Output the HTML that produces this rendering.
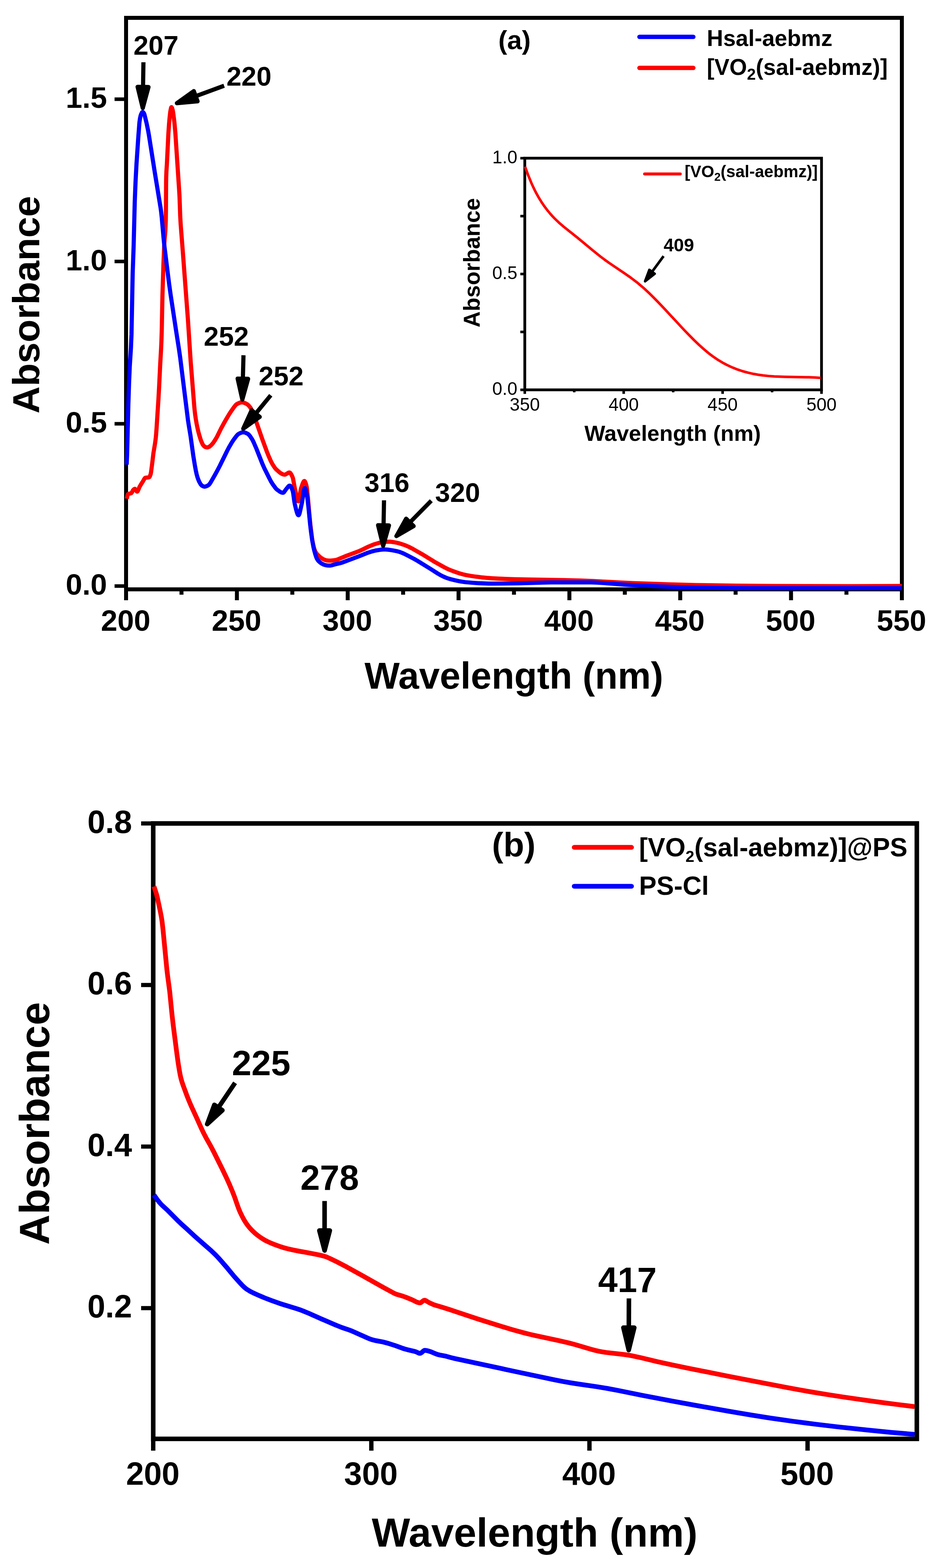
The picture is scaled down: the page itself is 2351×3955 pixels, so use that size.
<!DOCTYPE html>
<html><head><meta charset="utf-8"><title>UV-Vis absorption spectra (a) Hsal-aebmz and [VO2(sal-aebmz)], (b) [VO2(sal-aebmz)]@PS and PS-Cl</title>
<style>
html,body{margin:0;padding:0;background:#fff;}
body{width:2351px;height:3955px;overflow:hidden;}
svg{display:block;}
svg text{font-family:'Liberation Sans', Arial, Helvetica, sans-serif;font-weight:bold;fill:#000;}
</style></head>
<body>
<svg width="2351" height="3955" viewBox="0 0 2351 3955">
<rect x="0" y="0" width="2351" height="3955" fill="#fff"/>
<rect x="318.0" y="45" width="1957.0" height="1441.5" fill="none" stroke="#000" stroke-width="10"/>
<line x1="289" y1="1478.2" x2="318.0" y2="1478.2" stroke="#000" stroke-width="9"/>
<text x="270" y="1500.2" font-size="75" text-anchor="end">0.0</text>
<line x1="289" y1="1068.9" x2="318.0" y2="1068.9" stroke="#000" stroke-width="9"/>
<text x="270" y="1090.9" font-size="75" text-anchor="end">0.5</text>
<line x1="289" y1="659.5" x2="318.0" y2="659.5" stroke="#000" stroke-width="9"/>
<text x="270" y="681.5" font-size="75" text-anchor="end">1.0</text>
<line x1="289" y1="250.2" x2="318.0" y2="250.2" stroke="#000" stroke-width="9"/>
<text x="270" y="272.2" font-size="75" text-anchor="end">1.5</text>
<line x1="318.0" y1="1486" x2="318.0" y2="1514" stroke="#000" stroke-width="10"/>
<text x="317.0" y="1591" font-size="75" text-anchor="middle">200</text>
<line x1="457.8" y1="1486" x2="457.8" y2="1500" stroke="#000" stroke-width="10"/>
<line x1="597.6" y1="1486" x2="597.6" y2="1514" stroke="#000" stroke-width="10"/>
<text x="596.6" y="1591" font-size="75" text-anchor="middle">250</text>
<line x1="737.4" y1="1486" x2="737.4" y2="1500" stroke="#000" stroke-width="10"/>
<line x1="877.1" y1="1486" x2="877.1" y2="1514" stroke="#000" stroke-width="10"/>
<text x="876.1" y="1591" font-size="75" text-anchor="middle">300</text>
<line x1="1016.9" y1="1486" x2="1016.9" y2="1500" stroke="#000" stroke-width="10"/>
<line x1="1156.7" y1="1486" x2="1156.7" y2="1514" stroke="#000" stroke-width="10"/>
<text x="1155.7" y="1591" font-size="75" text-anchor="middle">350</text>
<line x1="1296.5" y1="1486" x2="1296.5" y2="1500" stroke="#000" stroke-width="10"/>
<line x1="1436.3" y1="1486" x2="1436.3" y2="1514" stroke="#000" stroke-width="10"/>
<text x="1435.3" y="1591" font-size="75" text-anchor="middle">400</text>
<line x1="1576.1" y1="1486" x2="1576.1" y2="1500" stroke="#000" stroke-width="10"/>
<line x1="1715.9" y1="1486" x2="1715.9" y2="1514" stroke="#000" stroke-width="10"/>
<text x="1714.9" y="1591" font-size="75" text-anchor="middle">450</text>
<line x1="1855.6" y1="1486" x2="1855.6" y2="1500" stroke="#000" stroke-width="10"/>
<line x1="1995.4" y1="1486" x2="1995.4" y2="1514" stroke="#000" stroke-width="10"/>
<text x="1994.4" y="1591" font-size="75" text-anchor="middle">500</text>
<line x1="2135.2" y1="1486" x2="2135.2" y2="1500" stroke="#000" stroke-width="10"/>
<line x1="2275.0" y1="1486" x2="2275.0" y2="1514" stroke="#000" stroke-width="10"/>
<text x="2274.0" y="1591" font-size="75" text-anchor="middle">550</text>
<text x="98.9" y="768.6" font-size="95" text-anchor="middle" transform="rotate(-90 98.9 768.6)">Absorbance</text>
<text x="1296.3" y="1737" font-size="94" text-anchor="middle">Wavelength (nm)</text>
<path d="M320.00,1258.00 L321.80,1249.01 L322.80,1246.19 L324.60,1245.35 L329.20,1244.58 L331.20,1243.89 L332.40,1242.42 L335.60,1236.47 L338.00,1234.00 L339.60,1233.05 L340.40,1233.09 L341.40,1233.97 L344.00,1238.19 L345.00,1239.48 L345.80,1239.98 L346.60,1239.76 L347.40,1238.80 L348.20,1237.26 L352.00,1228.00 L355.60,1221.86 L360.60,1214.04 L363.80,1208.35 L365.20,1206.33 L366.20,1205.37 L367.00,1205.00 L374.00,1204.34 L376.20,1203.93 L377.00,1203.20 L378.00,1201.45 L380.00,1196.00 L381.00,1191.17 L384.00,1168.08 L387.00,1143.00 L391.20,1117.99 L392.80,1106.00 L393.80,1095.39 L395.00,1079.19 L399.60,1007.76 L401.40,975.34 L404.20,917.40 L406.20,882.23 L407.20,860.86 L408.00,834.89 L409.80,744.37 L412.20,667.89 L414.40,615.45 L415.20,603.63 L417.00,583.83 L418.20,556.82 L418.60,528.56 L419.00,460.13 L419.20,448.38 L419.80,432.12 L421.00,413.63 L424.80,335.97 L426.40,312.74 L428.00,295.23 L429.60,281.33 L431.40,272.46 L432.00,270.72 L432.40,270.22 L432.60,270.21 L433.00,270.51 L433.60,271.55 L435.20,276.16 L436.00,279.68 L437.00,285.64 L439.80,307.31 L442.20,333.39 L452.40,487.03 L453.00,499.41 L454.60,545.81 L455.80,566.45 L462.00,645.90 L474.00,805.46 L481.00,912.07 L490.00,1024.58 L491.20,1036.94 L492.40,1046.64 L494.00,1057.58 L496.00,1069.02 L498.20,1079.77 L500.40,1089.07 L503.00,1098.62 L506.00,1108.34 L508.20,1114.30 L511.20,1120.76 L512.80,1123.26 L515.60,1126.08 L517.80,1127.43 L520.20,1128.17 L522.20,1128.49 L523.40,1128.44 L524.80,1128.12 L527.20,1127.21 L528.20,1126.63 L532.60,1122.91 L535.20,1120.24 L538.40,1116.16 L542.20,1110.50 L547.20,1102.08 L557.40,1081.28 L564.20,1068.68 L570.80,1057.11 L577.60,1045.67 L582.00,1038.74 L590.60,1026.47 L594.40,1021.79 L596.00,1020.27 L597.40,1019.24 L602.40,1016.75 L606.60,1015.27 L608.60,1014.90 L610.40,1014.80 L614.00,1015.34 L618.40,1016.97 L623.20,1019.42 L626.60,1022.19 L629.60,1025.55 L632.60,1029.64 L634.60,1033.31 L637.00,1038.70 L646.80,1064.93 L661.80,1108.20 L673.60,1140.37 L677.20,1149.29 L682.80,1162.07 L685.80,1168.08 L689.40,1174.17 L693.60,1180.41 L697.00,1184.36 L705.40,1191.53 L708.40,1193.69 L711.20,1195.33 L713.20,1196.23 L715.20,1196.86 L717.20,1197.17 L718.80,1197.13 L721.40,1196.15 L727.40,1192.45 L728.80,1191.95 L730.20,1191.81 L731.40,1192.27 L732.60,1193.35 L734.00,1195.26 L735.40,1197.76 L738.20,1203.90 L739.20,1207.24 L743.00,1228.02 L748.00,1252.78 L749.80,1260.11 L750.60,1262.42 L751.40,1263.96 L752.00,1264.53 L752.60,1264.47 L753.20,1263.51 L753.80,1261.72 L755.00,1256.27 L757.80,1239.53 L759.00,1233.44 L759.60,1231.21 L763.40,1220.01 L765.40,1215.54 L766.20,1214.34 L767.00,1213.57 L767.80,1213.30 L768.40,1213.51 L769.00,1214.11 L769.80,1215.45 L771.20,1219.02 L772.80,1224.49 L773.60,1227.88 L774.20,1231.84 L776.60,1253.97 L781.00,1303.86 L783.20,1325.89 L787.00,1356.73 L788.40,1365.46 L790.20,1374.46 L791.80,1381.05 L793.20,1385.58 L795.20,1390.62 L797.00,1394.00 L799.80,1397.71 L804.00,1401.98 L808.00,1405.51 L811.80,1408.22 L814.60,1409.92 L817.00,1411.11 L821.20,1412.83 L824.00,1413.50 L829.40,1413.96 L834.40,1413.93 L841.80,1413.29 L847.60,1412.40 L853.40,1410.46 L875.80,1401.19 L889.60,1396.15 L906.20,1389.79 L913.20,1386.74 L928.80,1379.02 L938.40,1375.03 L945.40,1372.44 L956.20,1369.26 L963.00,1367.77 L975.00,1366.55 L983.80,1366.35 L988.00,1366.72 L992.80,1367.45 L1001.60,1369.11 L1007.00,1370.41 L1013.00,1372.21 L1020.00,1374.63 L1025.40,1376.69 L1030.60,1378.98 L1042.20,1384.95 L1065.20,1398.08 L1096.00,1416.97 L1115.40,1427.92 L1122.80,1431.90 L1129.20,1435.07 L1134.60,1437.45 L1141.00,1439.91 L1151.00,1443.51 L1160.00,1446.43 L1168.40,1448.79 L1176.20,1450.58 L1187.80,1452.60 L1201.20,1454.57 L1214.20,1456.16 L1227.40,1457.46 L1239.80,1458.39 L1258.60,1459.45 L1297.60,1460.93 L1336.60,1461.82 L1425.00,1463.23 L1463.00,1464.20 L1495.20,1465.56 L1565.00,1469.24 L1595.60,1470.63 L1690.60,1474.02 L1757.00,1475.77 L1858.40,1477.26 L1948.00,1477.99 L2149.20,1478.50 L2275.00,1478.00" fill="none" stroke="#ff0000" stroke-width="10.5" stroke-linejoin="round"/>
<path d="M319.50,1172.00 L320.70,1144.00 L323.70,1022.22 L325.50,967.20 L327.30,924.68 L330.30,877.10 L331.70,843.64 L334.70,688.67 L337.10,620.88 L339.90,509.29 L341.90,458.92 L344.30,413.82 L348.70,348.45 L351.70,308.79 L353.10,299.14 L354.10,294.23 L355.10,290.45 L355.90,288.23 L357.90,284.09 L358.90,282.75 L359.90,282.30 L361.10,282.97 L362.30,284.50 L363.70,286.89 L364.50,289.18 L369.70,310.54 L373.90,330.90 L375.90,342.65 L390.30,433.87 L405.10,524.44 L406.50,534.58 L407.90,547.37 L412.70,601.36 L414.50,619.19 L426.70,716.91 L430.50,743.95 L444.50,836.29 L451.30,879.80 L454.50,901.73 L474.10,1059.18 L475.90,1071.09 L480.50,1098.65 L487.50,1149.08 L491.70,1174.55 L494.10,1187.54 L496.10,1196.63 L498.10,1203.63 L500.50,1210.40 L502.90,1215.80 L505.70,1220.78 L506.90,1222.38 L508.70,1224.31 L509.90,1225.34 L511.10,1226.05 L514.70,1227.36 L516.10,1227.50 L517.70,1227.31 L521.10,1226.27 L522.70,1225.59 L524.90,1224.28 L527.10,1222.56 L529.30,1219.98 L531.70,1216.26 L542.10,1198.12 L547.90,1187.55 L554.50,1174.88 L572.90,1137.34 L577.70,1128.18 L582.70,1119.52 L586.90,1112.77 L590.10,1108.12 L595.70,1100.62 L598.90,1096.85 L601.50,1094.66 L606.90,1091.90 L611.10,1090.54 L614.10,1090.32 L617.50,1090.92 L621.10,1092.30 L625.70,1094.73 L628.10,1096.85 L630.90,1100.32 L635.90,1107.96 L637.90,1111.55 L640.90,1117.96 L646.70,1131.54 L661.90,1169.99 L666.70,1180.86 L679.90,1207.39 L683.70,1214.59 L688.30,1221.92 L694.50,1230.45 L696.90,1233.20 L699.10,1235.29 L705.50,1239.84 L707.90,1241.25 L710.10,1242.25 L712.10,1242.82 L714.10,1242.99 L715.30,1242.47 L716.50,1241.33 L721.30,1234.43 L726.70,1227.65 L728.70,1225.65 L730.10,1224.90 L731.30,1224.88 L732.50,1225.68 L733.90,1227.55 L736.10,1232.09 L738.50,1238.58 L739.70,1244.88 L742.30,1263.90 L743.50,1270.87 L746.70,1284.34 L748.70,1291.73 L750.50,1296.71 L751.30,1298.21 L752.10,1299.20 L753.10,1299.59 L753.50,1299.40 L754.10,1298.69 L755.10,1296.47 L756.30,1292.47 L761.70,1267.97 L765.50,1243.42 L766.90,1235.77 L767.70,1232.77 L768.50,1231.12 L769.10,1230.94 L769.90,1231.80 L770.90,1234.26 L772.10,1238.77 L774.50,1250.49 L775.30,1255.24 L776.50,1264.94 L778.90,1287.63 L782.30,1322.52 L784.50,1341.09 L787.50,1362.61 L790.90,1380.76 L792.90,1389.29 L795.30,1397.84 L797.50,1404.70 L799.30,1409.13 L801.10,1412.18 L803.50,1415.13 L807.10,1418.44 L810.70,1421.07 L816.30,1423.97 L820.50,1425.40 L825.50,1426.19 L829.50,1426.56 L832.50,1426.55 L835.50,1426.11 L844.50,1423.62 L857.50,1420.67 L863.10,1419.02 L904.90,1403.37 L926.10,1394.86 L939.50,1390.53 L947.70,1388.50 L958.50,1386.84 L966.30,1386.09 L973.10,1386.08 L979.10,1386.53 L985.50,1387.37 L992.90,1388.67 L1002.90,1390.72 L1006.70,1391.73 L1010.50,1392.99 L1019.10,1396.59 L1029.10,1401.63 L1045.70,1410.44 L1052.50,1414.29 L1086.70,1435.38 L1103.30,1445.97 L1109.70,1449.80 L1117.50,1453.88 L1125.70,1457.33 L1131.30,1459.33 L1136.50,1460.87 L1148.70,1463.85 L1159.10,1466.05 L1166.70,1467.39 L1173.70,1468.36 L1190.90,1469.86 L1206.70,1470.92 L1220.50,1471.60 L1233.10,1471.95 L1246.10,1471.99 L1309.10,1471.35 L1368.50,1469.51 L1389.70,1469.06 L1490.70,1469.12 L1505.30,1469.61 L1521.70,1470.51 L1573.70,1474.40 L1591.50,1475.56 L1663.50,1478.97 L1700.50,1480.52 L1732.10,1481.58 L1759.10,1482.23 L1792.90,1482.70 L1846.10,1483.27 L1890.70,1483.49 L2275.00,1483.50" fill="none" stroke="#0000ff" stroke-width="10.5" stroke-linejoin="round"/>
<text x="393.5" y="138" font-size="68" text-anchor="middle">207</text>
<line x1="361.8" y1="157.0" x2="360.8" y2="221.3" stroke="#000" stroke-width="10.5"/><polygon points="360.1,272.8 347.1,219.1 374.6,219.5" fill="#000" stroke="#000" stroke-width="10.5" stroke-linejoin="round"/>
<text x="628" y="216" font-size="68" text-anchor="middle">220</text>
<line x1="565.3" y1="216.3" x2="491.7" y2="243.4" stroke="#000" stroke-width="10.5"/><polygon points="446.2,260.2 488.9,229.8 498.4,255.6" fill="#000" stroke="#000" stroke-width="10.5" stroke-linejoin="round"/>
<text x="570.8" y="871.5" font-size="68" text-anchor="middle">252</text>
<line x1="614.2" y1="896.0" x2="612.6" y2="957.3" stroke="#000" stroke-width="10.5"/><polygon points="611.3,1007.8 599.4,954.9 625.9,955.6" fill="#000" stroke="#000" stroke-width="10.5" stroke-linejoin="round"/>
<text x="709.2" y="971.5" font-size="68" text-anchor="middle">252</text>
<line x1="683.0" y1="997.0" x2="643.7" y2="1044.8" stroke="#000" stroke-width="10.5"/><polygon points="613.5,1081.4 634.7,1034.8 655.2,1051.6" fill="#000" stroke="#000" stroke-width="10.5" stroke-linejoin="round"/>
<text x="976.2" y="1241" font-size="68" text-anchor="middle">316</text>
<line x1="968.7" y1="1262.0" x2="967.5" y2="1327.0" stroke="#000" stroke-width="10.5"/><polygon points="966.5,1377.0 953.7,1324.7 981.2,1325.2" fill="#000" stroke="#000" stroke-width="10.5" stroke-linejoin="round"/>
<text x="1154.3" y="1266" font-size="68" text-anchor="middle">320</text>
<line x1="1087.9" y1="1263.0" x2="1032.6" y2="1319.1" stroke="#000" stroke-width="10.5"/><polygon points="999.9,1352.2 1024.5,1308.3 1043.4,1327.0" fill="#000" stroke="#000" stroke-width="10.5" stroke-linejoin="round"/>
<text x="1298" y="123.5" font-size="67" text-anchor="middle">(a)</text>
<line x1="1613" y1="93.1" x2="1749" y2="93.1" stroke="#0000ff" stroke-width="11" stroke-linecap="round"/>
<line x1="1613" y1="171.3" x2="1749" y2="171.3" stroke="#ff0000" stroke-width="11" stroke-linecap="round"/>
<text x="1783" y="116" font-size="57" text-anchor="start">Hsal-aebmz</text>
<text x="1783" y="188.8" font-size="57" text-anchor="start">[VO<tspan font-size="40" dy="12">2</tspan><tspan dy="-12">(sal-aebmz)]</tspan></text>
<rect x="1323.8" y="399.0" width="748.5000000000002" height="584.3" fill="none" stroke="#000" stroke-width="7"/>
<line x1="1312.5" y1="983.3" x2="1323.8" y2="983.3" stroke="#000" stroke-width="6.5"/>
<text x="1305" y="996.3" font-size="45.5" text-anchor="end" style="font-weight:normal">0.0</text>
<line x1="1312.5" y1="837.2" x2="1323.8" y2="837.2" stroke="#000" stroke-width="6.5"/>
<line x1="1312.5" y1="691.1" x2="1323.8" y2="691.1" stroke="#000" stroke-width="6.5"/>
<text x="1305" y="704.1" font-size="45.5" text-anchor="end" style="font-weight:normal">0.5</text>
<line x1="1312.5" y1="545.1" x2="1323.8" y2="545.1" stroke="#000" stroke-width="6.5"/>
<line x1="1312.5" y1="399.0" x2="1323.8" y2="399.0" stroke="#000" stroke-width="6.5"/>
<text x="1305" y="412.0" font-size="45.5" text-anchor="end" style="font-weight:normal">1.0</text>
<line x1="1323.8" y1="983.3" x2="1323.8" y2="993.5" stroke="#000" stroke-width="6.5"/>
<text x="1323.8" y="1035.5" font-size="45.5" text-anchor="middle" style="font-weight:normal">350</text>
<line x1="1448.5" y1="983.3" x2="1448.5" y2="989.5" stroke="#000" stroke-width="6.5"/>
<line x1="1573.3" y1="983.3" x2="1573.3" y2="993.5" stroke="#000" stroke-width="6.5"/>
<text x="1573.3" y="1035.5" font-size="45.5" text-anchor="middle" style="font-weight:normal">400</text>
<line x1="1698.1" y1="983.3" x2="1698.1" y2="989.5" stroke="#000" stroke-width="6.5"/>
<line x1="1822.8" y1="983.3" x2="1822.8" y2="993.5" stroke="#000" stroke-width="6.5"/>
<text x="1822.8" y="1035.5" font-size="45.5" text-anchor="middle" style="font-weight:normal">450</text>
<line x1="1947.6" y1="983.3" x2="1947.6" y2="989.5" stroke="#000" stroke-width="6.5"/>
<line x1="2072.3" y1="983.3" x2="2072.3" y2="993.5" stroke="#000" stroke-width="6.5"/>
<text x="2072.3" y="1035.5" font-size="45.5" text-anchor="middle" style="font-weight:normal">500</text>
<text x="1209.7" y="662.75" font-size="56.5" text-anchor="middle" transform="rotate(-90 1209.7 662.75)">Absorbance</text>
<text x="1696.8" y="1112.3" font-size="55.5" text-anchor="middle">Wavelength (nm)</text>
<path d="M1324.50,420.44 L1332.30,441.83 L1340.50,461.73 L1344.70,470.99 L1348.90,479.66 L1353.30,488.16 L1357.70,496.10 L1362.30,503.86 L1367.10,511.41 L1371.90,518.46 L1377.10,525.59 L1382.50,532.51 L1387.90,538.97 L1393.50,545.23 L1399.50,551.49 L1409.90,561.42 L1421.50,571.47 L1455.90,598.90 L1496.50,632.55 L1513.90,646.51 L1525.10,655.01 L1536.50,663.17 L1575.90,689.74 L1590.90,700.24 L1605.90,711.58 L1619.50,722.90 L1628.30,730.77 L1637.30,739.21 L1646.90,748.59 L1657.30,759.12 L1676.70,779.51 L1724.90,831.40 L1738.30,845.36 L1750.50,857.61 L1763.90,870.42 L1776.30,881.51 L1788.10,891.28 L1799.50,899.86 L1811.10,907.70 L1822.90,914.79 L1834.90,921.14 L1847.30,926.85 L1860.10,931.92 L1873.10,936.25 L1886.50,939.95 L1900.50,943.06 L1912.70,945.22 L1925.50,946.99 L1938.90,948.38 L1953.30,949.43 L1979.70,950.48 L2040.90,951.58 L2056.30,952.21 L2070.20,953.12" fill="none" stroke="#ff0000" stroke-width="6.5" stroke-linejoin="round"/>
<line x1="1626" y1="438.8" x2="1716" y2="438.8" stroke="#ff0000" stroke-width="7.5" stroke-linecap="round"/>
<text x="1727" y="447" font-size="42" text-anchor="start">[VO<tspan font-size="29" dy="9">2</tspan><tspan dy="-9">(sal-aebmz)]</tspan></text>
<text x="1712.4" y="634" font-size="46" text-anchor="middle">409</text>
<line x1="1673.9" y1="646.0" x2="1643.6" y2="687.2" stroke="#000" stroke-width="6.5"/><polygon points="1627.3,709.4 1638.1,680.7 1651.4,690.5" fill="#000" stroke="#000" stroke-width="6.5" stroke-linejoin="round"/>
<rect x="386.5" y="2077" width="1926.1999999999998" height="1552.3000000000002" fill="none" stroke="#000" stroke-width="11.5"/>
<line x1="356" y1="2077.0" x2="386.5" y2="2077.0" stroke="#000" stroke-width="10.5"/>
<text x="333" y="2100.5" font-size="81" text-anchor="end">0.8</text>
<line x1="356" y1="2484.5" x2="386.5" y2="2484.5" stroke="#000" stroke-width="10.5"/>
<text x="333" y="2508.0" font-size="81" text-anchor="end">0.6</text>
<line x1="356" y1="2892.0" x2="386.5" y2="2892.0" stroke="#000" stroke-width="10.5"/>
<text x="333" y="2915.5" font-size="81" text-anchor="end">0.4</text>
<line x1="356" y1="3299.5" x2="386.5" y2="3299.5" stroke="#000" stroke-width="10.5"/>
<text x="333" y="3323.0" font-size="81" text-anchor="end">0.2</text>
<line x1="386.5" y1="3629.3" x2="386.5" y2="3659" stroke="#000" stroke-width="11"/>
<text x="385.5" y="3745" font-size="81" text-anchor="middle">200</text>
<line x1="936.7" y1="3629.3" x2="936.7" y2="3659" stroke="#000" stroke-width="11"/>
<text x="935.7" y="3745" font-size="81" text-anchor="middle">300</text>
<line x1="1486.9" y1="3629.3" x2="1486.9" y2="3659" stroke="#000" stroke-width="11"/>
<text x="1485.9" y="3745" font-size="81" text-anchor="middle">400</text>
<line x1="2037.1" y1="3629.3" x2="2037.1" y2="3659" stroke="#000" stroke-width="11"/>
<text x="2036.1" y="3745" font-size="81" text-anchor="middle">500</text>
<text x="124" y="2833.6" font-size="106" text-anchor="middle" transform="rotate(-90 124 2833.6)">Absorbance</text>
<text x="1348.7" y="3901.3" font-size="102.5" text-anchor="middle">Wavelength (nm)</text>
<path d="M388.50,2236.00 L394.70,2255.43 L396.70,2262.86 L403.90,2296.49 L406.90,2312.07 L408.70,2323.30 L411.10,2343.93 L420.90,2444.82 L422.70,2460.21 L428.10,2500.87 L433.90,2559.46 L437.10,2587.05 L446.50,2660.25 L449.50,2681.78 L452.30,2699.15 L454.50,2711.22 L456.30,2719.19 L458.70,2727.82 L462.10,2738.02 L471.10,2762.41 L477.10,2777.49 L482.90,2791.04 L495.70,2818.66 L508.50,2847.22 L513.50,2857.79 L519.50,2869.31 L532.30,2892.19 L539.70,2906.38 L560.50,2948.23 L571.90,2972.09 L579.50,2989.07 L586.50,3005.75 L591.30,3018.09 L599.30,3041.10 L602.50,3049.76 L605.70,3057.33 L610.70,3067.76 L615.30,3076.33 L619.90,3083.85 L625.10,3091.19 L630.50,3097.81 L636.50,3104.19 L643.10,3110.36 L649.70,3115.77 L657.90,3121.74 L663.30,3125.26 L668.50,3128.30 L674.50,3131.38 L681.10,3134.42 L689.30,3137.81 L699.50,3141.67 L708.50,3144.82 L716.70,3147.41 L727.30,3150.23 L740.50,3153.11 L755.30,3156.01 L779.70,3160.36 L805.30,3165.40 L817.50,3168.44 L821.50,3169.68 L825.30,3171.14 L831.10,3173.73 L849.10,3182.39 L875.10,3195.88 L912.30,3216.40 L966.90,3247.25 L992.30,3261.09 L997.10,3263.33 L1001.50,3265.04 L1016.90,3269.54 L1024.10,3272.13 L1039.30,3278.37 L1048.90,3283.19 L1052.90,3284.91 L1056.90,3285.99 L1059.10,3286.20 L1060.30,3286.08 L1061.50,3285.61 L1062.70,3284.86 L1066.90,3281.39 L1068.70,3280.19 L1070.50,3279.61 L1072.30,3279.82 L1074.70,3280.90 L1079.70,3284.04 L1087.70,3288.02 L1092.70,3290.28 L1097.50,3292.01 L1112.90,3296.51 L1133.70,3303.07 L1205.70,3327.00 L1252.70,3341.83 L1291.10,3353.45 L1307.50,3358.09 L1322.70,3362.15 L1336.10,3365.49 L1350.90,3368.91 L1409.30,3381.36 L1434.30,3387.10 L1450.90,3391.56 L1490.70,3403.31 L1501.50,3406.14 L1511.30,3408.37 L1519.50,3409.92 L1529.10,3411.37 L1574.10,3416.49 L1584.90,3418.03 L1594.90,3419.80 L1613.30,3423.77 L1658.50,3434.67 L1696.30,3442.81 L1735.90,3451.06 L1836.10,3471.13 L1981.50,3499.16 L2018.10,3505.93 L2050.10,3511.52 L2086.10,3517.38 L2124.70,3523.32 L2171.70,3530.18 L2224.30,3537.48 L2263.90,3542.67 L2307.00,3548.00" fill="none" stroke="#ff0000" stroke-width="12" stroke-linejoin="round"/>
<path d="M388.50,3014.00 L393.10,3020.88 L397.30,3026.71 L401.30,3031.80 L405.30,3036.39 L409.50,3040.61 L421.70,3051.87 L450.70,3080.98 L456.50,3086.43 L469.70,3098.23 L489.50,3116.54 L516.30,3140.33 L532.90,3154.76 L543.50,3164.81 L550.30,3172.00 L558.50,3181.23 L572.10,3196.98 L590.50,3219.25 L605.70,3236.19 L611.10,3241.94 L615.70,3246.42 L619.70,3249.85 L623.70,3252.74 L630.50,3256.87 L638.50,3260.97 L654.30,3268.14 L667.70,3273.75 L684.90,3280.36 L705.50,3287.69 L716.70,3291.30 L746.90,3300.43 L755.90,3303.46 L764.30,3306.60 L779.30,3312.79 L807.90,3325.42 L847.50,3342.49 L861.90,3348.21 L880.70,3354.66 L888.10,3357.44 L927.50,3375.02 L933.30,3377.39 L938.30,3379.14 L946.70,3381.27 L966.10,3384.91 L976.50,3387.60 L996.50,3393.86 L1013.90,3400.24 L1020.70,3402.50 L1027.50,3404.33 L1042.50,3407.78 L1048.70,3409.50 L1050.70,3410.29 L1055.50,3412.64 L1057.90,3413.44 L1059.90,3413.56 L1061.70,3412.90 L1063.50,3411.63 L1068.10,3407.57 L1070.30,3406.27 L1072.10,3406.00 L1075.70,3406.40 L1079.50,3407.32 L1087.30,3409.67 L1099.10,3414.77 L1103.50,3416.32 L1108.70,3417.54 L1122.90,3420.27 L1138.30,3424.47 L1148.10,3426.82 L1295.30,3458.50 L1399.90,3480.61 L1421.90,3484.86 L1441.50,3488.27 L1459.10,3490.98 L1504.90,3497.58 L1531.50,3502.01 L1558.70,3507.17 L1621.70,3519.83 L1697.90,3534.28 L1762.90,3546.26 L1836.30,3559.22 L1893.90,3569.03 L1940.90,3576.46 L1999.50,3584.82 L2057.30,3592.39 L2112.10,3598.90 L2185.70,3606.82 L2248.10,3612.91 L2307.00,3618.00" fill="none" stroke="#0000ff" stroke-width="12" stroke-linejoin="round"/>
<text x="658.9" y="2711.5" font-size="88.5" text-anchor="middle">225</text>
<line x1="593.0" y1="2731.3" x2="549.8" y2="2795.3" stroke="#000" stroke-width="11.5"/><polygon points="522.6,2835.5 540.7,2786.8 561.0,2800.5" fill="#000" stroke="#000" stroke-width="11.5" stroke-linejoin="round"/>
<text x="831.6" y="3001" font-size="88.5" text-anchor="middle">278</text>
<line x1="818.8" y1="3029.3" x2="818.8" y2="3105.8" stroke="#000" stroke-width="11.5"/><polygon points="818.8,3154.2 805.5,3103.8 832.0,3103.8" fill="#000" stroke="#000" stroke-width="11.5" stroke-linejoin="round"/>
<text x="1582.7" y="3259" font-size="88.5" text-anchor="middle">417</text>
<line x1="1586.5" y1="3275.0" x2="1586.2" y2="3350.8" stroke="#000" stroke-width="11.5"/><polygon points="1586.0,3405.3 1572.5,3348.7 1600.0,3348.8" fill="#000" stroke="#000" stroke-width="11.5" stroke-linejoin="round"/>
<text x="1296" y="2159.5" font-size="86" text-anchor="middle">(b)</text>
<line x1="1448.5" y1="2137.2" x2="1593" y2="2137.2" stroke="#ff0000" stroke-width="12" stroke-linecap="round"/>
<line x1="1448.5" y1="2235.6" x2="1593" y2="2235.6" stroke="#0000ff" stroke-width="12" stroke-linecap="round"/>
<text x="1612" y="2160" font-size="66" text-anchor="start">[VO<tspan font-size="40" dy="14">2</tspan><tspan dy="-14">(sal-aebmz)]@PS</tspan></text>
<text x="1612" y="2257" font-size="66" text-anchor="start">PS-Cl</text>
</svg>
</body></html>
